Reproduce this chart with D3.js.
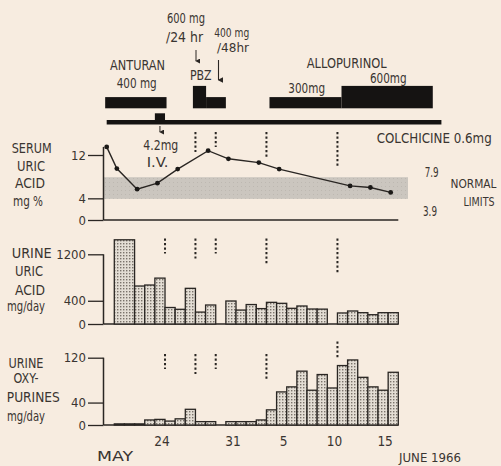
<!DOCTYPE html>
<html><head><meta charset="utf-8">
<script src="https://cdn.jsdelivr.net/npm/d3@7"></script>
<style>
html,body{margin:0;padding:0;background:#f7ece0;}
svg{display:block;}
text{font-family:"Liberation Sans Narrow","DejaVu Sans Condensed","Arial Narrow",sans-serif;fill:#3a3531;}
</style></head><body>
<svg id="c" width="501" height="466"></svg>
<script>
// ---- DATA (day numbers: May = day, June = 31 + day) ----
const serumDays   = [19, 20, 22, 24, 26, 29, 31, 34, 36, 43, 45, 47];
const serumValues = [13.5, 9.5, 5.7, 6.8, 9.4, 12.8, 11.3, 10.6, 9.4, 6.3, 6.0, 5.1];
const normalRange = [3.9, 7.9];
const serumTicks  = [0, 4, 12];

const uricStart  = [20, 22, 23, 24, 25, 26, 27, 28, 29, 31, 32, 33, 34, 35, 36, 37, 38, 39, 40, 42, 43, 44, 45, 46, 47];
const uricSpan   = [2, 1, 1, 1, 1, 1, 1, 1, 1, 1, 1, 1, 1, 1, 1, 1, 1, 1, 1, 1, 1, 1, 1, 1, 1];
const uricValues = [1450, 654, 671, 790, 284, 253, 614, 205, 327, 396, 240, 335, 265, 373, 356, 270, 310, 258, 256, 190, 224, 195, 160, 195, 195];
const uricTicks  = [0, 400, 1200];

const oxyDays   = [20, 21, 22, 23, 24, 25, 26, 27, 28, 29, 31, 32, 33, 34, 35, 36, 37, 38, 39, 40, 41, 42, 43, 44, 45, 46, 47];
const oxyValues = [2, 2, 2, 9, 10, 7, 11, 28, 6, 6, 6, 6, 6, 9, 27, 59, 68, 96, 62, 90, 66, 106, 116, 85, 68, 62, 94];
const oxyTicks  = [0, 40, 120];

const xTickDays   = [24, 31, 36, 41, 46];
const xTickLabels = ["24", "31", "5", "10", "15"];

// drug regimens (top bars)
const drugStart = [19.1, 27.75, 29.05, 35.3, 42.4];
const drugEnd   = [25.15, 29.05, 31.0, 42.4, 51.4];
const drugLevel = [1, 2, 1, 1, 2];

const colchicineSpan  = [19.25, 52.25];
const colchicineIV    = [24, 25];
const colchicineDays  = [25, 28, 30, 35, 42];
const colchicineDoses = [3, 4, 3, 5, 7];

// ---- LAYOUT ----
const svg = d3.select("#c");
const ink = "#2a2623";
const x = d3.scaleLinear().domain([20, 48]).range([114.3, 398.3]);
const axisX = 103.5;
const ySer = d3.scaleLinear().domain([0, 12]).range([220, 155]);
const yUri = d3.scaleLinear().domain([0, 1200]).range([324, 254.3]);
const yOxy = d3.scaleLinear().domain([0, 120]).range([425, 357.7]);

const defs = svg.append("defs");
const pat = defs.append("pattern").attr("id", "stip").attr("width", 3).attr("height", 3)
  .attr("patternUnits", "userSpaceOnUse");
pat.append("rect").attr("width", 3).attr("height", 3).attr("fill", "#e3ddd4");
pat.append("rect").attr("x", 0).attr("y", 0).attr("width", 1.4).attr("height", 1.4).attr("fill", "#7a736b");
const bpat = defs.append("pattern").attr("id", "band").attr("width", 4).attr("height", 4)
  .attr("patternUnits", "userSpaceOnUse");
bpat.append("rect").attr("width", 4).attr("height", 4).attr("fill", "#cbc6bf");
bpat.append("rect").attr("x", 1).attr("y", 2).attr("width", 1).attr("height", 1).attr("fill", "#bdb8b1");
defs.append("marker").attr("id", "ah").attr("viewBox", "0 0 6 6").attr("refX", 3).attr("refY", 5)
  .attr("markerWidth", 5).attr("markerHeight", 5).attr("orient", "auto-start-reverse")
  .append("path").attr("d", "M0,0 L3,6 L6,0 Z").attr("fill", ink);

function label(tx, ty, txt, w, size, anchor) {
  const t = svg.append("text").attr("x", tx).attr("y", ty).attr("dy", "0.35em")
    .attr("text-anchor", anchor || "middle").attr("font-size", size || 13.5).text(txt);
  if (w) t.attr("textLength", w).attr("lengthAdjust", "spacingAndGlyphs");
  return t;
}

// ---- TOP DRUG BARS ----
const drugBase = 108.3, levelH = 11.2;
svg.append("g").selectAll("rect").data(drugStart).join("rect")
  .attr("x", (d, i) => x(d)).attr("width", (d, i) => x(drugEnd[i]) - x(d))
  .attr("y", (d, i) => drugBase - drugLevel[i] * levelH).attr("height", (d, i) => drugLevel[i] * levelH)
  .attr("fill", "#151312");

// colchicine line + IV bump
svg.append("rect").attr("x", x(colchicineSpan[0])).attr("width", x(colchicineSpan[1]) - x(colchicineSpan[0]))
  .attr("y", 120).attr("height", 4.5).attr("fill", "#151312");
svg.append("rect").attr("x", x(colchicineIV[0])).attr("width", x(colchicineIV[1]) - x(colchicineIV[0]))
  .attr("y", 113.3).attr("height", 8).attr("fill", "#151312");
svg.append("line").attr("x1", x((colchicineIV[0] + colchicineIV[1]) / 2)).attr("x2", x((colchicineIV[0] + colchicineIV[1]) / 2))
  .attr("y1", 126).attr("y2", 132).attr("stroke", ink).attr("stroke-width", 1).attr("marker-end", "url(#ah)");

// arrows for PBZ
svg.append("line").attr("x1", 196).attr("x2", 196).attr("y1", 50).attr("y2", 61)
  .attr("stroke", ink).attr("stroke-width", 1).attr("marker-end", "url(#ah)");
svg.append("line").attr("x1", 218.5).attr("x2", 218.5).attr("y1", 60).attr("y2", 80)
  .attr("stroke", ink).attr("stroke-width", 1.1).attr("marker-end", "url(#ah)");

label(186, 18, "600 mg", 38, 14);
label(184.5, 37, "/24 hr", 37, 14);
label(231.7, 32, "400 mg", 35, 13);
label(233, 47.5, "/48hr", 32, 13);
label(200.8, 75, "PBZ", 21.7, 14);
label(137.5, 65, "ANTURAN", 55, 14);
label(136.7, 83, "400 mg", 40, 14);
label(346.7, 63, "ALLOPURINOL", 80, 14);
label(306.7, 88, "300mg", 36.7, 14);
label(388.3, 78, "600mg", 36.7, 14);
label(434.2, 138.3, "COLCHICINE 0.6mg", 115, 14);
label(160.8, 145, "4.2mg", 35, 14);
label(157.5, 161.7, "I.V.", 21.7, 14);

// ---- SERUM PANEL ----
svg.append("rect").attr("x", axisX).attr("width", 408 - axisX)
  .attr("y", ySer(normalRange[1])).attr("height", ySer(normalRange[0]) - ySer(normalRange[1]))
  .attr("fill", "url(#band)");

function frame(y, top) {
  const g = svg.append("g");
  g.append("line").attr("x1", axisX).attr("x2", axisX).attr("y1", y(0)).attr("y2", top)
    .attr("stroke", ink).attr("stroke-width", 1.5);
  g.append("line").attr("x1", axisX).attr("x2", x(48)).attr("y1", y(0)).attr("y2", y(0))
    .attr("stroke", ink).attr("stroke-width", 1.5);
}
function ticks(y, vals) {
  const g = svg.append("g").attr("transform", `translate(${axisX},0)`)
    .call(d3.axisLeft(y).tickValues(vals).tickSize(15.5).tickPadding(2).tickFormat(d3.format("d")));
  g.select(".domain").remove();
  g.selectAll("line").attr("stroke", ink).attr("stroke-width", 1.3);
  g.selectAll("text").attr("font-size", 13).attr("fill", "#3a3531")
    .attr("font-family", '"Liberation Sans Narrow","DejaVu Sans Condensed",sans-serif');
}
frame(ySer, ySer(d3.max(serumValues)));
ticks(ySer, serumTicks);

const serOff = 0.25;
svg.append("path").datum(serumDays)
  .attr("d", d3.line().x((d) => x(d + serOff)).y((d, i) => ySer(serumValues[i])))
  .attr("fill", "none").attr("stroke", ink).attr("stroke-width", 1.4);
svg.append("g").selectAll("circle").data(serumDays).join("circle")
  .attr("cx", (d) => x(d + serOff)).attr("cy", (d, i) => ySer(serumValues[i])).attr("r", 2.4).attr("fill", "#1b1917");

label(31.7, 148.3, "SERUM", 40);
label(31, 166, "URIC", 28);
label(30, 183.3, "ACID", 30);
label(28, 201.7, "mg %", 30);
label(431.7, 172, "7.9", 14);
label(430, 211, "3.9", 14);
label(473.5, 183, "NORMAL", 46, 13);
label(479, 201, "LIMITS", 31, 13);

// ---- URINE URIC ACID PANEL ----
frame(yUri, yUri(1200));
ticks(yUri, uricTicks);
svg.append("g").selectAll("rect").data(uricStart).join("rect")
  .attr("x", (d) => x(d)).attr("width", (d, i) => x(d + uricSpan[i]) - x(d))
  .attr("y", (d, i) => yUri(uricValues[i])).attr("height", (d, i) => yUri(0) - yUri(uricValues[i]))
  .attr("fill", "url(#stip)").attr("stroke", ink).attr("stroke-width", 1.3);
label(31.7, 253.3, "URINE", 40);
label(29, 271.7, "URIC", 28);
label(30, 290, "ACID", 30);
label(26, 306.7, "mg/day", 38);

// ---- URINE OXYPURINES PANEL ----
frame(yOxy, yOxy(120));
ticks(yOxy, oxyTicks);
svg.append("g").selectAll("rect").data(oxyDays).join("rect")
  .attr("x", (d) => x(d)).attr("width", (d) => x(d + 1) - x(d))
  .attr("y", (d, i) => yOxy(oxyValues[i])).attr("height", (d, i) => yOxy(0) - yOxy(oxyValues[i]))
  .attr("fill", "url(#stip)").attr("stroke", ink).attr("stroke-width", 1.3);
label(26, 363.3, "URINE", 35);
label(26, 378.3, "OXY-", 25);
label(33.3, 397.7, "PURINES", 53);
label(26, 416.7, "mg/day", 38);

// ---- COLCHICINE 0.6 mg DOSE MARKERS ----
const doseLen = 5;
function markers(top, skipFirst, barDays, barVals, yScale) {
  colchicineDays.forEach((d, i) => {
    if (skipFirst && i === 0) return;
    let t = top, b = top + colchicineDoses[i] * doseLen;
    if (barDays) {
      let hi = 0;
      barDays.forEach((bd, j) => { if (bd === d || bd === d - 1) hi = Math.max(hi, barVals[j]); });
      const lim = yScale(hi) - 8;
      if (b > lim) { b = lim; t = Math.min(t, b - 16); }
    }
    svg.append("line").attr("x1", x(d)).attr("x2", x(d)).attr("y1", t).attr("y2", b)
      .attr("stroke", ink).attr("stroke-width", 2).attr("stroke-dasharray", "2.2,2.3");
  });
}
markers(132, true, serumDays.map(d => d), serumValues.map(() => 0), ySer);
markers(238.5, false);
markers(354, false, oxyDays, oxyValues, yOxy);

// ---- X LABELS ----
svg.append("g").selectAll("text").data(xTickDays).join("text")
  .attr("x", (d) => x(d + 0.7)).attr("y", 441.7).attr("dy", "0.35em").attr("text-anchor", "middle")
  .attr("font-size", 13.5).text((d, i) => xTickLabels[i]);
label(115, 456.5, "MAY", 36, 13.5);
label(430, 457, "JUNE 1966", 62, 13);
</script>
</body></html>
